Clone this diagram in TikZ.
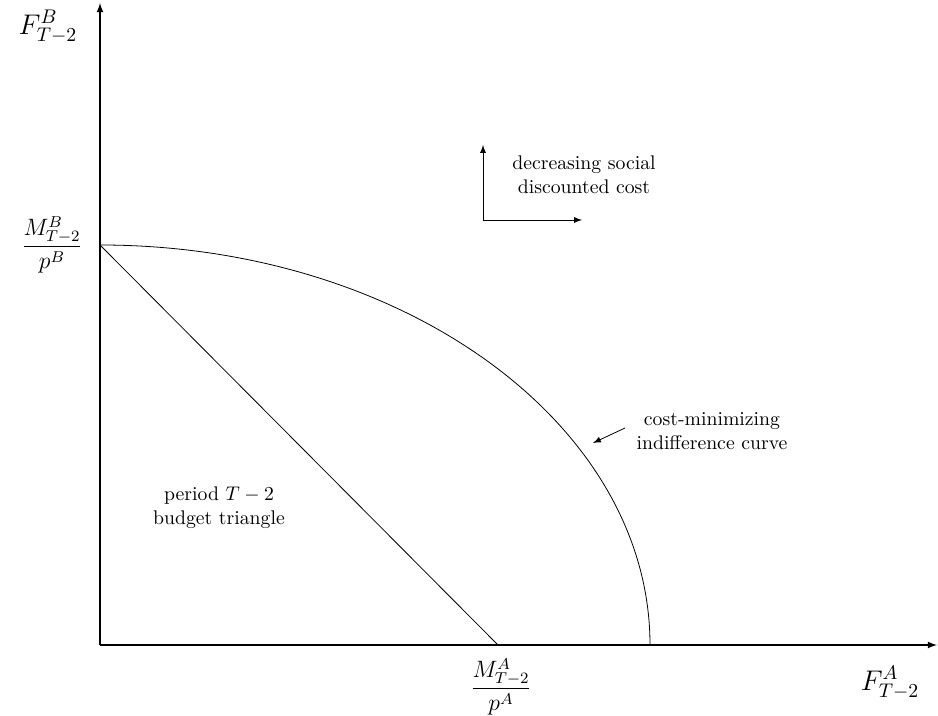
\documentclass[tikz,border=0pt]{standalone}
\usepackage{amsmath}
\usetikzlibrary{arrows}

\begin{document}
\begin{tikzpicture}[x=0.0178cm, y=0.0178cm, >=latex]
    \useasboundingbox (-100,-70) rectangle (838,645);

    % Axes
    \coordinate (O) at (0,0);
    \coordinate (ytop) at (0,642);
    \coordinate (xend) at (837,0);
    \draw[->, semithick] (O) -- (ytop);
    \draw[->, semithick] (O) -- (xend);
    \node[font=\Large] (FB) at (-52,618) {$F^B_{T-2}$};
    \node[font=\Large] (FA) at (790,-38) {$F^A_{T-2}$};

    % Triangle budgétaire et courbe d'indifférence
    \coordinate (B) at (0,400);
    \coordinate (A) at (398,0);
    \coordinate (C) at (550,0);
    \draw (B) -- (A);
    \draw (B) arc[start angle=90, end angle=0, x radius=550, y radius=400];
    \node[font=\large] (MB) at (-48,400) {$\dfrac{M^B_{T-2}}{p^B}$};
    \node[font=\large] (MA) at (401,-42) {$\dfrac{M^A_{T-2}}{p^A}$};

    % Sens de la baisse du coût
    \coordinate (dc) at (383,425);
    \coordinate (dcup) at (383,500);
    \coordinate (dcright) at (482,425);
    \draw[->] (dc) -- (dcup);
    \draw[->] (dc) -- (dcright);
    \node[align=center] (dclabel) at (484,470) {decreasing social\\discounted cost};

    % Légendes
    \node[align=center] (curvelabel) at (612,214) {cost-minimizing\\indifference curve};
    \coordinate (ctail) at (525,217);
    \coordinate (chead) at (493,202);
    \draw[->] (ctail) -- (chead);
    \node[align=center] (trilabel) at (119,137) {period $T-2$\\budget triangle};
\end{tikzpicture}
\end{document}
